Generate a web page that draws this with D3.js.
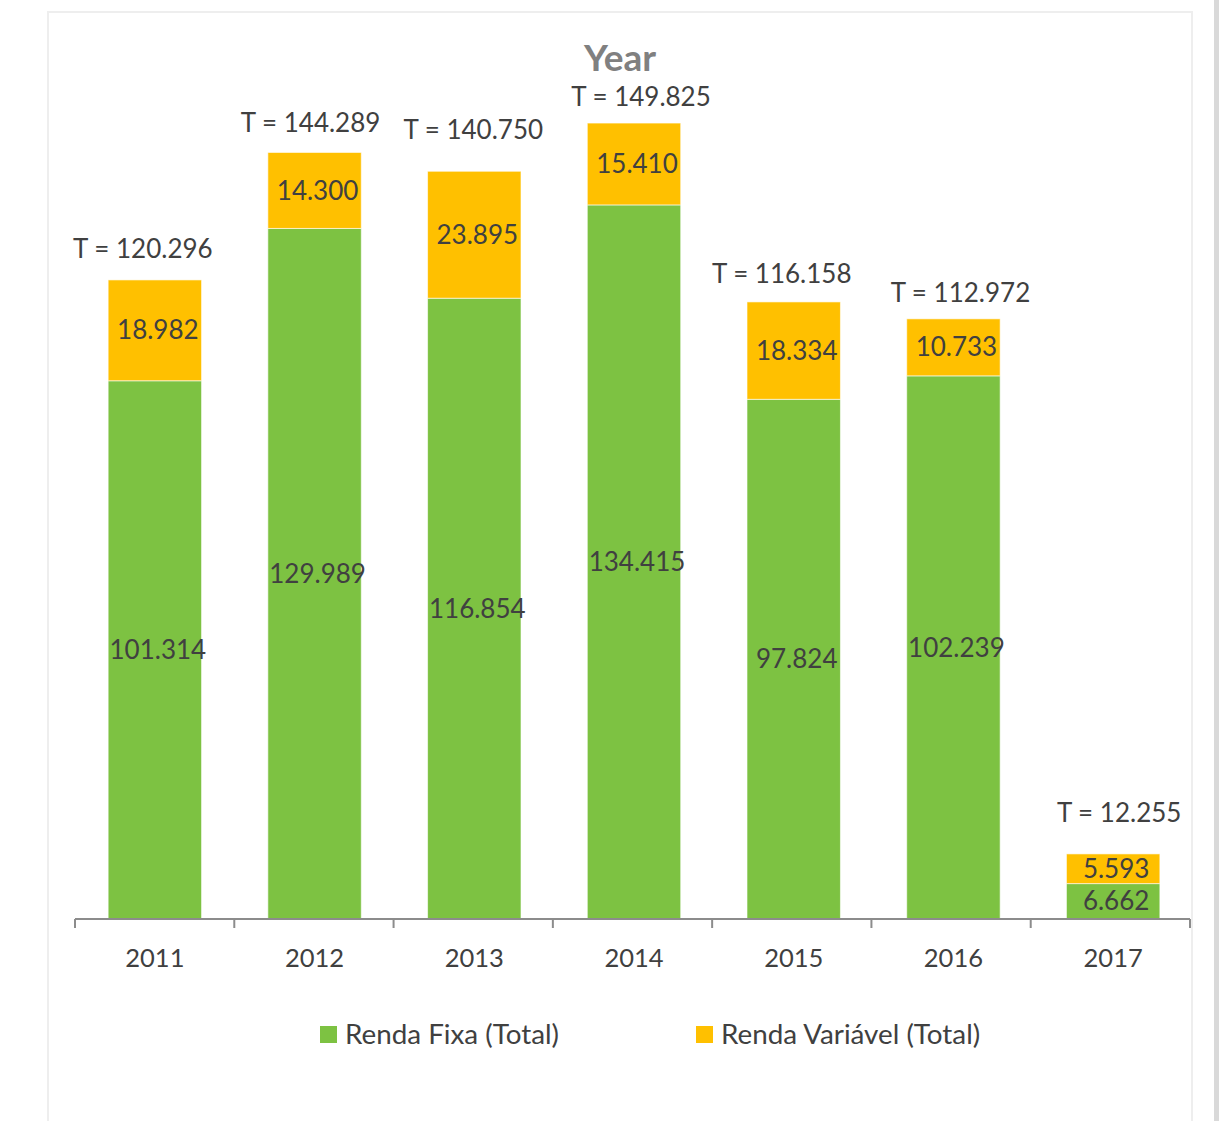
<!DOCTYPE html>
<html>
<head>
<meta charset="utf-8">
<script src="https://cdn.jsdelivr.net/npm/d3@7"></script>
<style>
  html, body { margin: 0; padding: 0; background: #fff; }
  svg { display: block; }
  text { font-family: Lato, "Open Sans", sans-serif; }
</style>
</head>
<body>
<svg id="chart" width="1219" height="1121"></svg>
<script>
const years = ["2011", "2012", "2013", "2014", "2015", "2016", "2017"];
const rendaFixa = [101.314, 129.989, 116.854, 134.415, 97.824, 102.239, 6.662];
const rendaVariavel = [18.982, 14.300, 23.895, 15.410, 18.334, 10.733, 5.593];
const totals = [120.296, 144.289, 140.750, 149.825, 116.158, 112.972, 12.255];
const seriesNames = ["Renda Fixa (Total)", "Renda Variável (Total)"];
const chartTitle = "Year";

// style / label nudges (pixels), not data
const totalNudgeX = [-12, -4, -1, 7, -12, 7, 6];
const totalNudgeY = [-31, -30, -41, -26, -28, -26, -41];

const colors = ["#7DC242", "#FFC000"];
const textColor = "#404040";
const fmt = v => d3.format(".3f")(v);

const svg = d3.select("#chart");

// frame
svg.append("rect").attr("x", 0).attr("y", 0).attr("width", 1219).attr("height", 1121).attr("fill", "#fff");
svg.append("rect").attr("x", 1214).attr("y", 0).attr("width", 5).attr("height", 1121).attr("fill", "#d9d9d9");
svg.append("rect").attr("x", 48).attr("y", 12).attr("width", 1144).attr("height", 1130)
  .attr("fill", "none").attr("stroke", "#eeeeee").attr("stroke-width", 2);

const x = d3.scaleBand().domain(years).range([75, 1193]).paddingInner(0.415).paddingOuter(0.2075);
const y = d3.scaleLinear().domain([0, 160]).range([919, 69]);

const stackData = years.map((yr, i) => ({ year: yr, fixa: rendaFixa[i], variavel: rendaVariavel[i] }));
const stack = d3.stack().keys(["fixa", "variavel"])(stackData);

const g = svg.append("g");
stack.forEach((layer, li) => {
  g.selectAll(null).data(layer).enter().append("rect")
    .attr("x", d => x(d.data.year))
    .attr("width", x.bandwidth())
    .attr("y", d => y(d[1]))
    .attr("height", d => y(d[0]) - y(d[1]))
    .attr("fill", colors[li])
    .attr("stroke", "rgba(255,255,255,0.6)")
    .attr("stroke-width", 1);
  g.selectAll(null).data(layer).enter().append("text")
    .attr("x", d => x(d.data.year) + x.bandwidth() / 2 + 3)
    .attr("y", d => (y(d[0]) + y(d[1])) / 2)
    .attr("dy", "0.35em")
    .attr("text-anchor", "middle")
    .attr("font-size", 26)
    .attr("fill", textColor)
    .text(d => fmt(d[1] - d[0]));
});

// totals
g.selectAll(null).data(years).enter().append("text")
  .attr("x", (d, i) => x(d) + x.bandwidth() / 2 + totalNudgeX[i])
  .attr("y", (d, i) => y(totals[i]) + totalNudgeY[i])
  .attr("dy", "0.35em")
  .attr("text-anchor", "middle")
  .attr("font-size", 26)
  .attr("fill", textColor)
  .text((d, i) => "T = " + fmt(totals[i]));

// axis
const ax = svg.append("g").attr("transform", "translate(0,919)");
ax.append("line").attr("x1", 75).attr("x2", 1190).attr("y1", 0).attr("y2", 0)
  .attr("stroke", "#8c8c8c").attr("stroke-width", 2);
ax.selectAll(null).data(d3.range(years.length + 1)).enter().append("line")
  .attr("x1", i => 75 + i * (1115 / years.length))
  .attr("x2", i => 75 + i * (1115 / years.length))
  .attr("y1", 0).attr("y2", 9)
  .attr("stroke", "#8c8c8c").attr("stroke-width", 2);
ax.selectAll(null).data(years).enter().append("text")
  .attr("x", d => x(d) + x.bandwidth() / 2)
  .attr("y", 39)
  .attr("dy", "0.35em")
  .attr("text-anchor", "middle")
  .attr("font-size", 25.5)
  .attr("fill", textColor)
  .text(d => d);

// title
svg.append("text").attr("x", 620).attr("y", 58).attr("dy", "0.35em")
  .attr("text-anchor", "middle").attr("font-size", 37).attr("font-weight", "bold")
  .attr("fill", "#808080").text(chartTitle);

// legend
const legendX = [320, 696];
const lg = svg.append("g");
seriesNames.forEach((name, i) => {
  lg.append("rect").attr("x", legendX[i]).attr("y", 1026).attr("width", 17).attr("height", 17).attr("fill", colors[i]);
  lg.append("text").attr("x", legendX[i] + 25).attr("y", 1034).attr("dy", "0.35em")
    .attr("font-size", 27.8).attr("fill", textColor).text(name);
});
</script>
</body>
</html>
